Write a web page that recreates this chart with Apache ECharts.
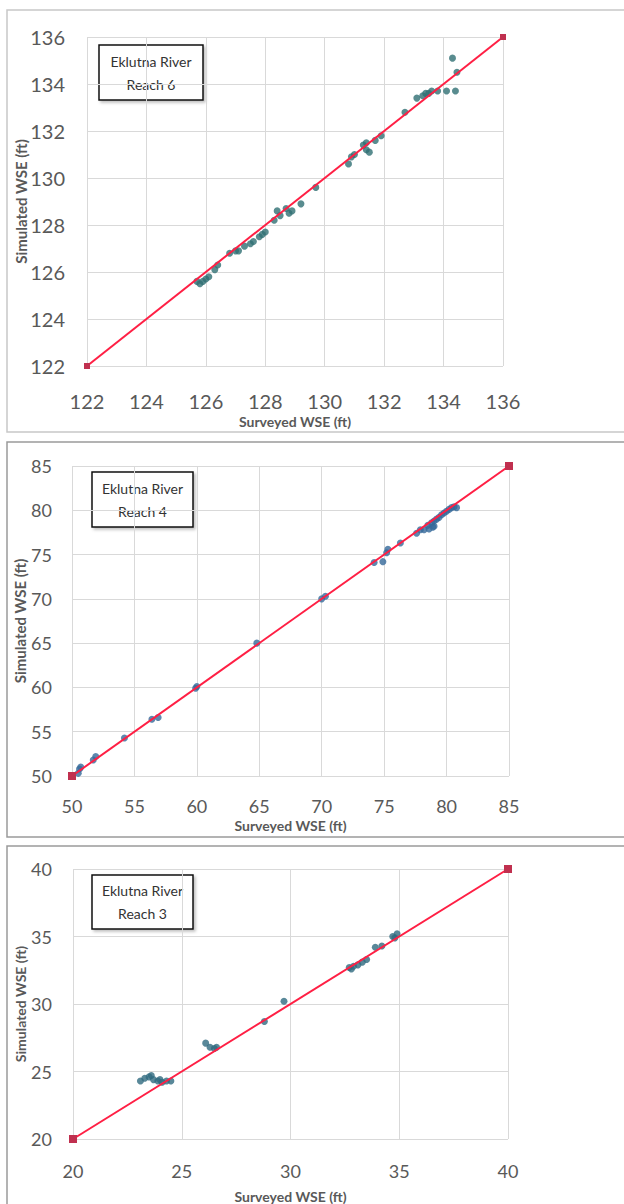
<!DOCTYPE html>
<html>
<head>
<meta charset="utf-8">
<title>Eklutna River - Simulated vs Surveyed WSE</title>
<script src="https://cdn.jsdelivr.net/npm/echarts@6/dist/echarts.min.js"></script>
<style>
  html, body { margin: 0; padding: 0; background: #fff; }
  #chart { width: 624px; height: 1204px; }
</style>
</head>
<body>
<div id="chart"></div>
<script>
// Reach 6
const reach6Ticks = [122, 124, 126, 128, 130, 132, 134, 136];
const reach6Surveyed = [125.7, 125.8, 125.9, 126.0, 126.1, 126.3, 126.4, 126.8, 127.0, 127.1, 127.3, 127.5, 127.6, 127.8, 127.9, 128.0,
  128.3, 128.4, 128.5, 128.7, 128.8, 128.9, 129.2, 129.7, 130.8, 130.9, 131.0, 131.3, 131.4, 131.5, 131.4, 131.7, 131.9,
  132.7, 133.1, 133.3, 133.4, 133.5, 133.6, 133.8, 134.1, 134.4, 134.3, 134.45];
const reach6Simulated = [125.6, 125.5, 125.6, 125.7, 125.8, 126.1, 126.3, 126.8, 126.9, 126.9, 127.1, 127.2, 127.3, 127.5, 127.6, 127.7,
  128.2, 128.6, 128.4, 128.7, 128.5, 128.6, 128.9, 129.6, 130.6, 130.9, 131.0, 131.4, 131.2, 131.1, 131.5, 131.6, 131.8,
  132.8, 133.4, 133.5, 133.6, 133.6, 133.7, 133.7, 133.7, 133.7, 135.1, 134.5];

// Reach 4
const reach4Ticks = [50, 55, 60, 65, 70, 75, 80, 85];
const reach4Surveyed = [50.5, 50.6, 50.7, 51.7, 51.9, 54.2, 56.4, 56.9, 59.9, 60.0, 64.8, 70.0, 70.3, 74.2, 74.9, 75.2, 75.3, 76.3,
  77.6, 77.9, 78.2, 78.6, 78.9, 79.0, 78.5, 78.8, 79.0, 79.2, 79.4, 79.6, 79.8, 80.0, 80.2, 80.4, 80.6, 80.8];
const reach4Simulated = [50.3, 50.8, 51.0, 51.8, 52.2, 54.3, 56.4, 56.6, 59.9, 60.1, 65.0, 70.0, 70.3, 74.1, 74.2, 75.2, 75.6, 76.3,
  77.4, 77.8, 77.8, 77.9, 78.1, 78.2, 78.3, 78.6, 78.8, 79.0, 79.2, 79.5, 79.7, 79.9, 80.1, 80.3, 80.4, 80.3];

// Reach 3
const reach3Ticks = [20, 25, 30, 35, 40];
const reach3Surveyed = [23.1, 23.3, 23.5, 23.6, 23.7, 23.9, 24.0, 24.1, 24.3, 24.5, 26.1, 26.3, 26.5, 26.6, 28.8, 29.7,
  32.7, 32.8, 32.9, 33.1, 33.3, 33.5, 33.9, 34.2, 34.7, 34.8, 34.9];
const reach3Simulated = [24.3, 24.5, 24.6, 24.7, 24.4, 24.3, 24.4, 24.2, 24.3, 24.3, 27.1, 26.8, 26.7, 26.8, 28.7, 30.2,
  32.7, 32.6, 32.8, 32.9, 33.1, 33.3, 34.2, 34.3, 35.0, 34.9, 35.2];

const reachNames = ['Reach 6', 'Reach 4', 'Reach 3'];

// 每个面板的布局
const panels = [
  { ticks: reach6Ticks, sx: reach6Surveyed, sy: reach6Simulated, grid: { left: 87, top: 37, width: 416, height: 329 },
    font: 20, xMargin: 26, yMargin: 22, xGap: 48, yGap: 59, yNameSize: 15, dot: '#2f6f73', endSize: 6,
    box: [99, 45, 104, 55], frame: [7, 10, 640, 422], frameColor: '#c8c8c8' },
  { ticks: reach4Ticks, sx: reach4Surveyed, sy: reach4Simulated, grid: { left: 72, top: 466, width: 437, height: 310 },
    font: 18, xMargin: 22, yMargin: 20, xGap: 42, yGap: 45, yNameSize: 15, dot: '#35699a', endSize: 8,
    box: [92, 472, 101, 55], frame: [7, 442, 640, 395], frameColor: '#9a9a9a' },
  { ticks: reach3Ticks, sx: reach3Surveyed, sy: reach3Simulated, grid: { left: 73, top: 869, width: 435, height: 271 },
    font: 18, xMargin: 24, yMargin: 21, xGap: 50, yGap: 46, yNameSize: 14, dot: '#2f6a80', endSize: 8,
    box: [92, 875, 101, 54], frame: [7, 846, 640, 400], frameColor: '#9a9a9a' }
];

const labelColor = '#595959';
const fontFamily = 'Lato, "Open Sans", sans-serif';

let grids = [], xAxes = [], yAxes = [], series = [], graphics = [];

panels.forEach((p, i) => {
  let lo = p.ticks[0];
  let hi = p.ticks[p.ticks.length - 1];
  let step = p.ticks[1] - p.ticks[0];
  grids.push(p.grid);
  let common = {
    gridIndex: i,
    type: 'value',
    min: lo,
    max: hi,
    interval: step,
    nameLocation: 'middle',
    nameMoveOverlap: false,
    axisLine: { show: false },
    axisTick: { show: false },
    splitLine: { show: true, lineStyle: { color: '#d9d9d9', width: 1 } }
  };
  xAxes.push(Object.assign({}, common, {
    name: 'Surveyed WSE (ft)',
    nameGap: p.xGap,
    nameTextStyle: { color: labelColor, fontSize: 14, fontWeight: 'bold', fontFamily: fontFamily, lineHeight: 14 },
    axisLabel: { color: labelColor, fontSize: p.font, lineHeight: p.font - 2, margin: p.xMargin, fontFamily: fontFamily }
  }));
  yAxes.push(Object.assign({}, common, {
    name: 'Simulated WSE (ft)',
    nameGap: p.yGap,
    nameTextStyle: { color: labelColor, fontSize: p.yNameSize, fontWeight: 'bold', fontFamily: fontFamily, lineHeight: p.yNameSize },
    axisLabel: { color: labelColor, fontSize: p.font, margin: p.yMargin, fontFamily: fontFamily }
  }));

  // 实测点
  series.push({
    type: 'scatter',
    xAxisIndex: i,
    yAxisIndex: i,
    symbol: 'circle',
    symbolSize: 7,
    itemStyle: { color: p.dot },
    data: p.sx.map((v, k) => [v, p.sy[k]])
  });
  // 1:1 线
  series.push({
    type: 'line',
    xAxisIndex: i,
    yAxisIndex: i,
    symbol: 'rect',
    symbolSize: p.endSize,
    itemStyle: { color: '#c0304f' },
    lineStyle: { color: '#ff1f44', width: 2 },
    data: [[lo, lo], [hi, hi]]
  });

  // 面板边框
  graphics.push({
    type: 'rect',
    z: 0,
    shape: { x: p.frame[0], y: p.frame[1], width: p.frame[2], height: p.frame[3] },
    style: { fill: 'none', stroke: p.frameColor, lineWidth: 1.5 }
  });
  // 标注框
  graphics.push({
    type: 'group',
    x: p.box[0],
    y: p.box[1],
    z: 10,
    children: [
      {
        type: 'rect',
        shape: { x: 0, y: 0, width: p.box[2], height: p.box[3] },
        style: { fill: '#fff', stroke: '#111', lineWidth: 1.5, shadowBlur: 3, shadowOffsetX: 2, shadowOffsetY: 2, shadowColor: 'rgba(0,0,0,0.25)' }
      },
      {
        type: 'text',
        style: {
          text: 'Eklutna River\n' + reachNames[i],
          x: p.box[2] / 2,
          y: p.box[3] / 2,
          align: 'center',
          verticalAlign: 'middle',
          fontSize: 14,
          lineHeight: 23,
          fontFamily: fontFamily,
          fill: '#333'
        }
      }
    ]
  });
});

let myChart = echarts.init(document.getElementById('chart'), null, { renderer: 'svg' });
myChart.setOption({
  animation: false,
  backgroundColor: '#fff',
  grid: grids,
  xAxis: xAxes,
  yAxis: yAxes,
  series: series,
  graphic: graphics
});
</script>
</body>
</html>
